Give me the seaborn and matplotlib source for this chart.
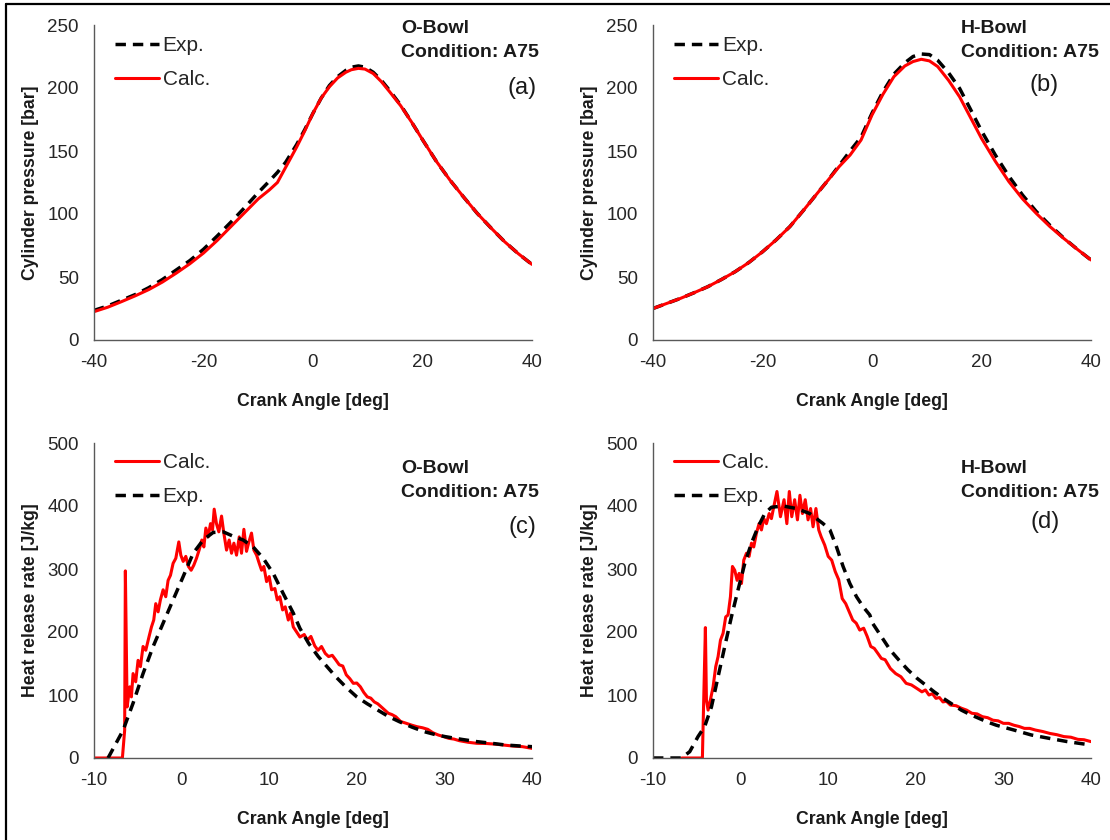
import matplotlib
matplotlib.use("Agg")
import matplotlib.pyplot as plt
import seaborn as sns
import pandas as pd
from matplotlib.lines import Line2D

# ---- (a) O-Bowl cylinder pressure ----
ca_a = [-40, -37.5, -35, -32.5, -30, -27.5, -25, -22.5, -20, -17.5, -15, -12.5, -10, -8, -6.5,
        -5, -3, -1.5, 0, 1.5, 3, 4.5, 6, 7, 8.3, 9.5, 11, 12.5, 14, 16, 18, 20, 22.5, 25,
        27.5, 30, 32.5, 35, 37.5, 40]
calc_a = [22.5, 26, 30.4, 35, 40, 46, 53, 60.5, 69, 79, 90, 101, 112, 119, 125,
          137, 153, 166, 180, 192, 201, 208, 212.5, 214.5, 215.6, 215, 211.5, 205, 197, 186, 173, 159, 142, 127,
          113.5, 100.5, 89, 78, 68.5, 60]
exp_a = [23.5, 27, 31.5, 36, 41.5, 48, 55.5, 63, 72, 82.5, 93.5, 105, 117, 126, 133,
         141, 155, 167, 180, 192, 202, 209, 214, 216.5, 217.5, 216.5, 212.5, 206, 198, 186.5, 173, 159, 142, 127,
         113.5, 100.5, 89, 78, 68.5, 60]

# ---- (b) H-Bowl cylinder pressure ----
ca_b = [-40, -37.5, -35, -32.5, -30, -27.5, -25, -22.5, -20, -17.5, -15, -12.5, -10, -8, -6,
        -4, -2, 0, 2, 4, 6, 7.5, 9, 10.5, 12, 14, 16, 18, 20, 22.5, 25, 27.5, 30, 32.5, 35, 37.5, 40]
calc_b = [25, 29, 33, 37.5, 42.3, 48, 54.2, 61.5, 70, 79.5, 90, 103, 116.4, 127, 137.6,
          146.8, 158.7, 178.6, 195, 209, 217.5, 221, 222.8, 221.5, 217, 206, 193, 176.5, 160, 142, 125.7,
          112, 100.5, 90, 80.7, 72, 63.5]
exp_b = [25, 29, 33, 37.5, 42.3, 48, 54.2, 61.5, 70, 79.5, 90, 103, 116.4, 127, 138.5,
         150, 161, 180, 197, 211, 220, 225, 227, 226.5, 222, 212, 199.7, 183, 166, 147, 130,
         115, 102, 91, 81, 72, 63.5]

# ---- (c) O-Bowl heat release rate ----
ca_c_calc = [-10, -6.76, -6.5, -6.42, -6.22, -5.92, -5.73, -5.54, -5.24, -4.97, -4.7, -4.4, -4.09, -3.71,
             -3.44, -3.18, -2.95, -2.68, -2.42, -2.11, -1.81, -1.54, -1.27, -0.97, -0.66, -0.32, -0.09,
             0.18, 0.48, 0.78, 1.09, 1.39, 1.7, 2.0, 2.31, 2.54, 2.77, 3.03, 3.3, 3.53, 3.72, 3.98, 4.25,
             4.56, 4.82, 5.13, 5.43, 5.7, 5.97, 6.27, 6.58, 6.84, 7.11, 7.41, 7.68, 7.98, 8.25, 8.56,
             8.86, 9.13, 9.39, 9.7, 10.0, 10.27, 10.65, 10.92, 11.22, 11.53, 11.83, 12.18, 12.44, 12.75,
             13.13, 13.51, 14.0, 14.35, 14.76, 15.2, 15.57, 15.97, 16.4, 16.78, 17.2, 17.58, 17.99, 18.4,
             18.8, 19.2, 19.6, 20.0, 20.41, 20.8, 21.2, 21.6, 22.0, 22.4, 22.8, 23.2, 23.6, 24.0, 24.45,
             25.0, 25.66, 26.3, 26.87, 27.5, 28.1, 28.7, 29.3, 29.9, 30.5, 31.1, 31.7, 32.7, 33.7, 34.8,
             35.8, 36.8, 37.8, 38.9, 40]
calc_c = [0, 0, 44, 297, 81, 113, 97, 134, 121, 155, 145, 177, 171, 193,
          208, 219, 245, 232, 251, 267, 256, 282, 290, 309, 317, 343, 322,
          312, 320, 304, 298, 306, 317, 330, 346, 335, 365, 351, 372, 362, 395, 372, 359,
          384, 357, 330, 346, 325, 341, 322, 351, 325, 363, 328, 343, 357, 330, 322,
          309, 298, 304, 280, 288, 267, 269, 251, 256, 235, 240, 219, 230, 208,
          200, 192, 196, 187, 193, 178, 171, 177, 166, 161, 163, 156, 148, 146,
          132, 126, 118.5, 119, 113, 104, 97, 95, 89, 86, 81, 76, 71, 69, 65.6,
          58, 55, 52, 49.7, 48, 45.5, 40, 36.5, 34, 31.2, 30, 27.5, 25, 23.3, 23,
          22, 20.5, 19, 18, 15.3]
ca_c_exp = [-8.4, -8.2, -6.68, -5.54, -4.4, -3.25, -2.11, -0.97, 0.18, 1.32, 2.46, 3.6, 4.75, 5.89,
            7.03, 8.17, 9.32, 10.46, 11.6, 12.75, 13.5, 14.5, 15.6, 16.6, 17.6, 18.8, 20, 21.2, 22.4,
            23.6, 24.85, 26.3, 27.7, 29, 30.1, 32, 33.7, 35.3, 37, 38.5, 40]
exp_c = [0, 5, 44, 87, 134, 177, 214, 251, 288, 325, 346, 358, 359, 352,
         346, 335, 317, 293, 261, 230, 206, 182, 161, 145, 129, 112, 97, 86, 76,
         66, 57.7, 49, 41.8, 37, 33.9, 29.5, 26, 23.5, 20.6, 19.2, 18]

# ---- (d) H-Bowl heat release rate ----
ca_d_calc = [-6.7, -4.36, -4.3, -4.02, -3.9, -3.71, -3.45, -3.14, -2.84, -2.57, -2.3, -2.0, -1.7, -1.43,
             -1.16, -0.93, -0.67, -0.4, -0.17, 0.1, 0.36, 0.67, 0.97, 1.24, 1.5, 1.81, 2.11, 2.38, 2.65,
             2.95, 3.26, 3.52, 3.79, 4.15, 4.55, 4.96, 5.28, 5.56, 5.84, 6.17, 6.49, 6.77, 7.06, 7.38,
             7.7, 7.99, 8.27, 8.6, 8.92, 9.2, 9.6, 10.0, 10.4, 10.8, 11.2, 11.6, 12.0, 12.4, 12.8, 13.2,
             13.6, 14.05, 14.45, 14.86, 15.26, 15.67, 16.07, 16.5, 17.1, 17.7, 18.3, 18.9, 19.5, 20.1,
             20.7, 21.1, 21.5, 21.9, 22.3, 22.7, 23.1, 23.5, 23.95, 24.6, 25.2, 25.8, 26.4, 27.0, 27.6,
             28.2, 28.8, 29.4, 30.0, 30.6, 31.2, 31.8, 32.4, 33.0, 33.65, 34.5, 35.3, 36.1, 36.9, 37.7,
             38.5, 39.2, 40]
calc_d = [0, 0, 39, 207, 92, 76, 92, 113, 145, 161, 187, 198, 224, 227,
          256, 304, 298, 282, 293, 277, 314, 325, 320, 341, 335, 357, 372, 362, 380,
          372, 388, 380, 399, 423, 383, 410, 372, 423, 383, 410, 378, 417, 388, 410,
          378, 396, 367, 396, 362, 351, 338, 320, 314, 296, 283, 253, 245, 232, 219, 214,
          203, 206, 193, 177, 174, 166, 158, 156, 142, 134, 129, 118.5, 116, 110.6,
          105, 108, 100, 102, 94.7, 96, 89, 90, 84, 83, 79, 76, 71, 70, 65.6,
          64, 60, 59, 55, 55, 52, 50, 47, 47, 44.4, 42, 39, 37, 34, 33,
          29.6, 29, 26]
ca_d_exp = [-10, -6.77, -5.81, -4.86, -4.1, -3.33, -2.57, -1.81, -1.05, -0.29, 0.48, 1.24, 2.0, 2.76,
            3.52, 4.85, 6.38, 7.9, 9.42, 10.2, 10.95, 11.7, 12.47, 13.23, 13.99, 14.75, 15.06, 16.1,
            17.1, 18.1, 19.1, 20.1, 21.1, 22.1, 23.1, 24.2, 25.2, 26.2, 27.2, 28.2, 29.2, 31.2, 33.2,
            35.3, 37.3, 40]
exp_d = [0, 0, 10, 34, 50, 81, 129, 177, 224, 267, 309, 341, 367, 388,
         398, 400, 396, 388, 372, 362, 335, 304, 277, 256, 240, 227, 214, 192,
         171, 155, 140, 127, 116, 105, 95, 85, 76, 69, 63, 57, 52, 44.4, 36.5,
         31, 26, 20.6]

sns.set_theme(style="white")
plt.rcParams["font.family"] = ["Liberation Sans", "DejaVu Sans"]
plt.rcParams["axes.unicode_minus"] = False

W, H = 1110, 840
fig = plt.figure(figsize=(W / 100, H / 100), dpi=100)

RED = "#ff0000"
DASH = (0, (3, 2))
TXT = "#1a1a1a"


def make_axes(left, top):
    return fig.add_axes([left / W, (H - top - 315) / H, 438 / W, 315 / H])


def style_axes(ax, xlim, xticks, ylim, yticks, ylabel):
    ax.set_xlim(*xlim)
    ax.set_ylim(*ylim)
    ax.set_xticks(xticks)
    ax.set_yticks(yticks)
    for s in ["top", "right"]:
        ax.spines[s].set_visible(False)
    for s in ["left", "bottom"]:
        ax.spines[s].set_color("#595959")
        ax.spines[s].set_linewidth(1.0)
    ax.tick_params(axis="both", length=0, labelsize=13.5, labelcolor="#262626")
    ax.tick_params(axis="y", pad=11)
    ax.tick_params(axis="x", pad=10)
    ax.set_xlabel("Crank Angle [deg]", fontsize=12.7, fontweight="bold", labelpad=16, color=TXT)
    ax.set_ylabel(ylabel, fontsize=12.7, fontweight="bold", labelpad=6, color=TXT)
    ax.grid(False)


def add_texts(ax, bowl, tag, x0, y1, y2, tag_x, tag_y):
    ax.text(x0, y1, bowl, transform=ax.transAxes, fontsize=14, fontweight="bold",
            va="baseline", ha="left", color=TXT)
    ax.text(x0, y2, "Condition: A75", transform=ax.transAxes, fontsize=14, fontweight="bold",
            va="baseline", ha="left", color=TXT)
    ax.text(tag_x, tag_y, tag, transform=ax.transAxes, fontsize=17, va="center", ha="left",
            color=TXT)


legend_kw = dict(frameon=False, loc="upper left", fontsize=15, handlelength=2.1,
                 handletextpad=0.2, labelspacing=0.72, borderaxespad=0.6)

# pressure panels
for left, top, tag, ca, calc, exp, bowl, x0, tx, ty in [
    (94, 25, "(a)", ca_a, calc_a, exp_a, "O-Bowl", 0.701, 0.943, 0.80),
    (653, 25, "(b)", ca_b, calc_b, exp_b, "H-Bowl", 0.703, 0.860, 0.81),
]:
    ax = make_axes(left, top)
    df = pd.DataFrame({"ca": ca, "calc": calc, "exp": exp})
    sns.lineplot(data=df, x="ca", y="exp", ax=ax, color="black", lw=2.5, linestyle=DASH,
                 label="Exp.", sort=False, estimator=None)
    sns.lineplot(data=df, x="ca", y="calc", ax=ax, color=RED, lw=2.2,
                 label="Calc.", sort=False, estimator=None)
    style_axes(ax, (-40, 40), [-40, -20, 0, 20, 40], (0, 250), range(0, 251, 50),
               "Cylinder pressure [bar]")
    ax.legend(bbox_to_anchor=(0.0, 1.03), **legend_kw)
    add_texts(ax, bowl, tag, x0, 0.975, 0.898, tx, ty)

# heat release panels
for left, top, tag, cc, vc, ce, ve, bowl, x0, tx, ty in [
    (94, 443, "(c)", ca_c_calc, calc_c, ca_c_exp, exp_c, "O-Bowl", 0.701, 0.947, 0.733),
    (653, 443, "(d)", ca_d_calc, calc_d, ca_d_exp, exp_d, "H-Bowl", 0.703, 0.862, 0.749),
]:
    ax = make_axes(left, top)
    dc = pd.DataFrame({"ca": cc, "hrr": vc})
    de = pd.DataFrame({"ca": ce, "hrr": ve})
    sns.lineplot(data=dc, x="ca", y="hrr", ax=ax, color=RED, lw=2.2,
                 label="Calc.", sort=False, estimator=None)
    sns.lineplot(data=de, x="ca", y="hrr", ax=ax, color="black", lw=2.5, linestyle=DASH,
                 label="Exp.", sort=False, estimator=None)
    style_axes(ax, (-10, 40), [-10, 0, 10, 20, 30, 40], (0, 500), range(0, 501, 100),
               "Heat release rate [J/kg]")
    ax.legend(bbox_to_anchor=(0.0, 1.035), **legend_kw)
    add_texts(ax, bowl, tag, x0, 0.905, 0.829, tx, ty)

# frame around the figure (left and top edges visible)
fig.add_artist(Line2D([6 / W, 6 / W], [0, 1 - 4 / H], color="black", lw=1.6))
fig.add_artist(Line2D([6 / W, 1], [1 - 4 / H, 1 - 4 / H], color="black", lw=1.6))

fig.savefig("out.png", dpi=100, facecolor="white")
